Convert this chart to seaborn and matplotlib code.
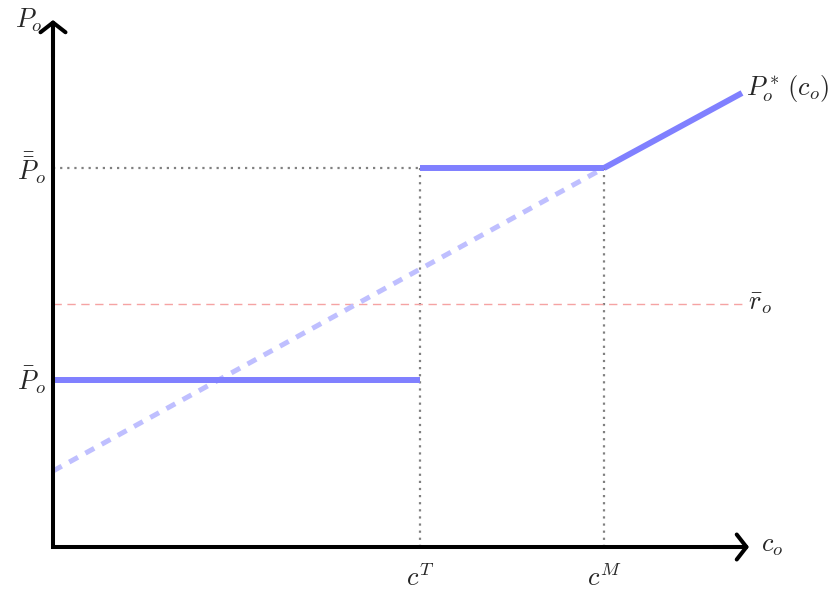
import matplotlib
matplotlib.use("Agg")
import matplotlib.pyplot as plt
import seaborn as sns

sns.set_theme(style="white")
plt.rcParams["mathtext.fontset"] = "cm"
plt.rcParams["font.family"] = ["DejaVu Serif"]

# Model parameters (axis units)
c_T = 3.67          # threshold cost c^T
c_M = 5.51          # cost c^M
P_low = 1.67        # \bar P_o
P_high = 3.79       # \bar{\bar P}_o
r_o = 2.43          # \bar r_o
c_max = 6.89        # right end of plotted range

# Linear price schedule P_o*(c_o): points on the line
line_c = [0.0, c_M, c_max]
line_P = [0.76, P_high, 4.54]

# Piecewise optimal price segments
low_c = [0.0, c_T]
low_P = [P_low, P_low]
high_c = [c_T, c_M]
high_P = [P_high, P_high]

fig = plt.figure(figsize=(8.38, 5.96), dpi=100)
ax = fig.add_axes([0, 0, 1, 1])
ax.set_xlim(-0.53, 7.85)
ax.set_ylim(-0.49, 5.47)
ax.axis("off")

blue = "#8080ff"
light_blue = "#bfbfff"
gray = "#808080"
dots = (0, (1, 2.2))

# guide lines
sns.lineplot(x=[0.0, c_T], y=[P_high, P_high], ax=ax, color=gray, lw=1.6,
             linestyle=dots, estimator=None, sort=False)
sns.lineplot(x=[c_T, c_T], y=[0.0, P_high], ax=ax, color=gray, lw=1.6,
             linestyle=dots, estimator=None, sort=False)
sns.lineplot(x=[c_M, c_M], y=[0.0, P_high], ax=ax, color=gray, lw=1.6,
             linestyle=dots, estimator=None, sort=False)
sns.lineplot(x=[0.0, 6.92], y=[r_o, r_o], ax=ax, color="#f5a3a3", lw=1.0,
             linestyle=(0, (6, 4)), estimator=None, sort=False)

# dashed extension of the linear schedule below c^M
sns.lineplot(x=line_c[:2], y=line_P[:2], ax=ax, color=light_blue, lw=3.6,
             linestyle=(0, (2.0, 1.7)), estimator=None, sort=False)
# solid parts of the optimal price
sns.lineplot(x=line_c[1:], y=line_P[1:], ax=ax, color=blue, lw=4.3,
             estimator=None, sort=False, solid_capstyle="butt")
sns.lineplot(x=low_c, y=low_P, ax=ax, color=blue, lw=4.3,
             estimator=None, sort=False, solid_capstyle="butt")
sns.lineplot(x=high_c, y=high_P, ax=ax, color=blue, lw=4.3,
             estimator=None, sort=False, solid_capstyle="butt")

# axes: one L-shaped stroke plus arrow heads at the tips
ax.plot([0.0, 0.0, 6.9], [5.2, 0.0, 0.0], color="black", lw=2.9,
        solid_joinstyle="miter", solid_capstyle="butt")
arrow = dict(arrowstyle="->,head_length=0.35,head_width=0.45", lw=2.9,
             color="black", mutation_scale=20, shrinkA=0, shrinkB=0,
             capstyle="round", joinstyle="round")
ax.annotate("", xy=(6.96, 0.0), xytext=(6.6, 0.0), arrowprops=arrow)
ax.annotate("", xy=(0.0, 5.27), xytext=(0.0, 4.9), arrowprops=arrow)

fs = 19
ax.text(-0.1, 5.27, r"$P_o$", fontsize=fs, ha="right", va="center")
ax.text(7.08, 0.02, r"$c_o$", fontsize=fs, ha="left", va="center")
ax.text(-0.07, P_high, r"$\bar{\bar{P}}_o$", fontsize=fs, ha="right", va="center")
ax.text(-0.07, P_low, r"$\bar{P}_o$", fontsize=fs, ha="right", va="center")
ax.text(6.93, 4.59, r"$P_o^*\,(c_o)$", fontsize=fs, ha="left", va="center")
ax.text(6.95, r_o, r"$\bar{r}_o$", fontsize=fs, ha="left", va="center")
ax.text(c_T, -0.3, r"$c^T$", fontsize=fs, ha="center", va="center")
ax.text(c_M, -0.3, r"$c^M$", fontsize=fs, ha="center", va="center")

fig.savefig("out.png", dpi=100)
